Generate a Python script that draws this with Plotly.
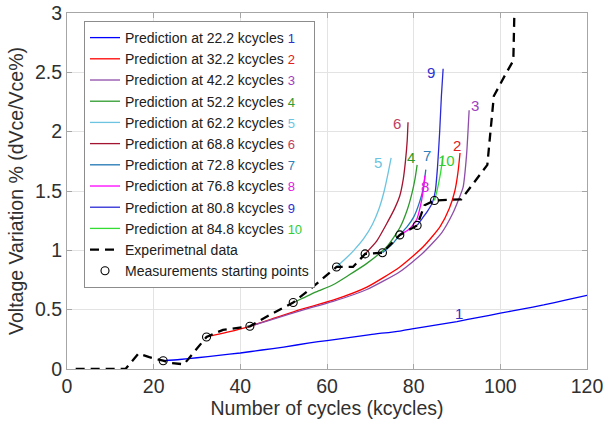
import plotly.graph_objects as go

# ---------------- data ----------------
pred_labels = ["22.2", "32.2", "42.2", "52.2", "62.2", "68.8", "72.8", "76.8", "80.8", "84.8"]
pred_numbers = ["1", "2", "3", "4", "5", "6", "7", "8", "9", "10"]

p1_x = [22.2, 26, 30, 35, 40, 45, 50, 56, 60, 65, 70, 76.8, 80, 85, 90, 95, 100, 105, 110, 115, 120]
p1_y = [0.07, 0.08, 0.095, 0.115, 0.135, 0.16, 0.185, 0.22, 0.24, 0.265, 0.29, 0.32, 0.34, 0.37, 0.40, 0.435, 0.47, 0.505, 0.54, 0.58, 0.62]

p2_x = [32.2, 37, 42.2, 48, 53.8, 61.4, 69.2, 76.8, 82.2, 86.1, 88.2, 89.5, 90.2, 90.7]
p2_y = [0.27, 0.31, 0.36, 0.43, 0.50, 0.58, 0.69, 0.86, 1.03, 1.20, 1.35, 1.50, 1.65, 1.82]

p3_x = [42.2, 48, 53.8, 61.4, 69.2, 76.8, 82.2, 86.5, 89, 90.6, 91.4, 92.2, 92.8]
p3_y = [0.36, 0.425, 0.49, 0.57, 0.67, 0.82, 0.98, 1.15, 1.31, 1.45, 1.53, 1.80, 2.18]

p4_x = [52.2, 54, 57.5, 61.4, 65, 69.2, 73.8, 76.8, 78.5, 79.6, 80.3, 80.8]
p4_y = [0.56, 0.59, 0.65, 0.71, 0.79, 0.89, 1.03, 1.19, 1.34, 1.48, 1.60, 1.72]

p5_x = [62.2, 64, 66.2, 68.5, 70.5, 72, 73.2, 74.1, 74.8]
p5_y = [0.86, 0.92, 1.00, 1.10, 1.22, 1.35, 1.50, 1.65, 1.78]

p6_x = [68.8, 71.5, 74, 75.7, 76.8, 77.6, 78.1, 78.5, 78.7]
p6_y = [0.97, 1.08, 1.24, 1.36, 1.46, 1.60, 1.75, 1.92, 2.08]

p7_x = [72.8, 75, 76.8, 78.5, 80, 81.3, 82.2, 82.8]
p7_y = [0.98, 1.05, 1.13, 1.20, 1.28, 1.40, 1.52, 1.68]

p8_x = [76.8, 79, 80.7, 81.6, 82.2, 82.6]
p8_y = [1.13, 1.18, 1.26, 1.38, 1.50, 1.63]

p9_x = [80.8, 82, 83.2, 84.3, 85, 85.5, 86, 86.4, 86.8]
p9_y = [1.21, 1.27, 1.33, 1.40, 1.50, 1.70, 2.00, 2.30, 2.53]

p10_x = [84.8, 85.5, 86.2, 86.8]
p10_y = [1.42, 1.52, 1.65, 1.80]

exp_x = [2, 8, 13.5, 16.5, 19, 22.2, 24, 27, 32.2, 36, 42.2, 47, 52.2, 57, 62.2, 66, 68.8,
         72.8, 76.8, 80.8, 82.5, 84.8, 91, 97, 98.5, 101, 103, 103.3]
exp_y = [0, 0, 0, 0.13, 0.10, 0.07, 0.05, 0.04, 0.27, 0.33, 0.36, 0.46, 0.56, 0.70, 0.86, 0.86, 0.97,
         0.98, 1.13, 1.21, 1.38, 1.42, 1.43, 1.72, 2.30, 2.47, 2.60, 3.10]

start_x = [22.2, 32.2, 42.2, 52.2, 62.2, 68.8, 72.8, 76.8, 80.8, 84.8]
start_y = [0.07, 0.27, 0.36, 0.56, 0.86, 0.97, 0.98, 1.13, 1.21, 1.42]

# positions of the numbered labels next to the curve ends
num_x = [90.5, 90.0, 94.2, 79.4, 71.8, 76.2, 83.1, 82.6, 84.0, 87.5]
num_y = [0.47, 1.88, 2.22, 1.78, 1.74, 2.07, 1.80, 1.54, 2.50, 1.76]

# ---------------- styles ----------------
line_colors = ["#0000FF", "#FF0000", "#8E4DA8", "#2E9A2E", "#6CC4E0",
               "#A2142F", "#1F77B4", "#FF00FF", "#2B2BD6", "#33DD33"]
num_colors = ["#3030C8", "#E02020", "#A040C0", "#2E9A2E", "#6CC4E0",
              "#C04060", "#2F7FB8", "#E020E0", "#3030D0", "#33CC33"]

FONT = "Liberation Sans, Arial, Helvetica, sans-serif"

pred_x = [p1_x, p2_x, p3_x, p4_x, p5_x, p6_x, p7_x, p8_x, p9_x, p10_x]
pred_y = [p1_y, p2_y, p3_y, p4_y, p5_y, p6_y, p7_y, p8_y, p9_y, p10_y]

fig = go.Figure()

for i in range(10):
    name = (f"Prediction at {pred_labels[i]} kcycles "
            f"<span style='color:{num_colors[i]};font-size:13px'>{pred_numbers[i]}</span>")
    fig.add_trace(go.Scatter(
        x=pred_x[i], y=pred_y[i], mode="lines", name=name,
        line=dict(color=line_colors[i], width=1.3, shape="spline", smoothing=0.6),
    ))

fig.add_trace(go.Scatter(
    x=exp_x, y=exp_y, mode="lines", name="Experimetnal data",
    line=dict(color="black", width=2.3, dash="9px,6px"),
))

fig.add_trace(go.Scatter(
    x=start_x, y=start_y, mode="markers", name="Measurements starting points",
    marker=dict(symbol="circle-open", size=8, color="black", line=dict(width=1.1)),
))

for i in range(10):
    fig.add_annotation(
        x=num_x[i], y=num_y[i], text=pred_numbers[i], showarrow=False,
        font=dict(color=num_colors[i], size=15, family=FONT),
        xanchor="center", yanchor="middle",
    )

axis_common = dict(
    showgrid=True, gridcolor="#E3E3E3", gridwidth=1,
    showline=True, linecolor="#A6A6A6", linewidth=1, mirror="ticks",
    ticks="inside", ticklen=5, tickcolor="#A6A6A6",
    tickfont=dict(size=19.5, color="#303030", family=FONT),
    zeroline=False,
)

fig.update_layout(
    width=610, height=424,
    margin=dict(l=67, r=23, t=13, b=55, autoexpand=False),
    paper_bgcolor="white", plot_bgcolor="white",
    font=dict(family=FONT, color="#303030"),
    xaxis=dict(range=[0, 120], dtick=20, tick0=0,
               title=dict(text="Number of cycles (kcycles)", font=dict(size=19.5, family=FONT, color="#303030"), standoff=0),
               **axis_common),
    yaxis=dict(range=[0, 3], dtick=0.5, tick0=0, tickformat="~g",
               title=dict(text="Voltage Variation % (dVce/Vce%)", font=dict(size=19.5, family=FONT, color="#303030"), standoff=6),
               **axis_common),
    legend=dict(
        x=0.0327, y=0.9775, xanchor="left", yanchor="top",
        bgcolor="white", bordercolor="#8C8C8C", borderwidth=1,
        font=dict(size=14, family=FONT, color="#202020"),
        itemwidth=30, tracegroupgap=0, traceorder="normal",
    ),
    showlegend=True,
)

fig.write_html("out.html", config={"displayModeBar": False},
               post_script="document.body.style.margin='0';document.body.style.padding='0';")
